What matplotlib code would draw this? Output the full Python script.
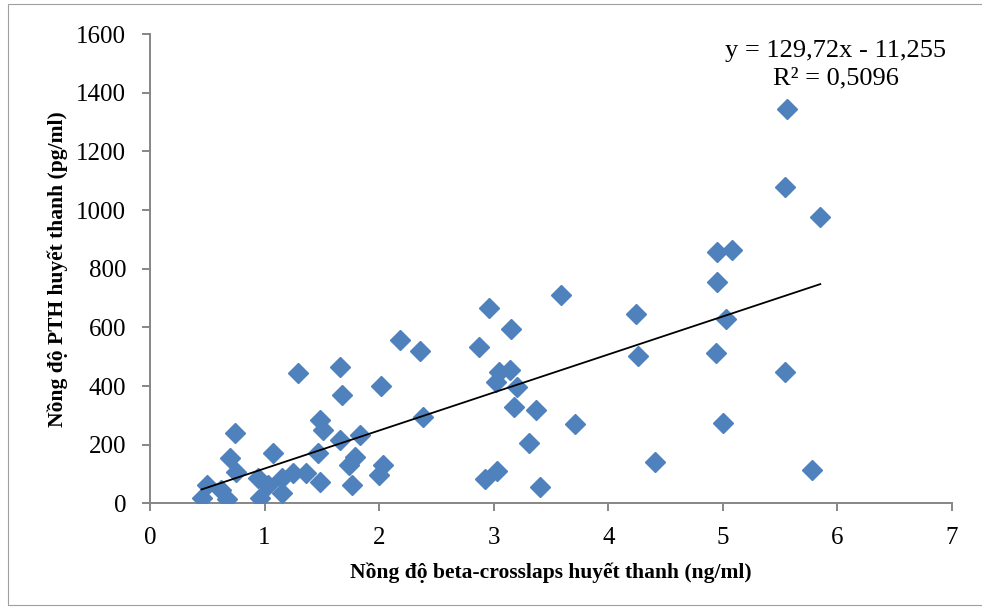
import numpy as np
import matplotlib.pyplot as plt
from matplotlib.patches import Rectangle

# beta-crosslaps (ng/ml) vs PTH (pg/ml)
beta_ctx = [0.45, 0.50, 0.62, 0.67, 0.74, 0.70, 0.75, 0.94, 0.96, 1.03,
            1.07, 1.15, 1.15, 1.25, 1.29, 1.36, 1.48, 1.47, 1.48, 1.51,
            1.66, 1.76, 1.74, 1.79, 1.83, 1.68, 1.66, 2.02, 2.00, 2.03,
            2.18, 2.36, 2.38, 2.96, 3.15, 2.87, 3.59, 3.05, 3.14, 3.02,
            3.20, 3.18, 3.37, 3.71, 3.31, 3.03, 2.92, 3.40, 4.24, 4.26,
            4.41, 4.95, 5.08, 4.95, 5.03, 4.94, 5.00, 5.56, 5.54, 5.85,
            5.54, 5.78]
pth = [17, 62, 45, 14, 239, 153, 108, 85, 17, 62,
       171, 85, 34, 102, 443, 102, 74, 171, 284, 250,
       216, 62, 131, 159, 233, 369, 466, 400, 97, 131,
       557, 520, 293, 665, 594, 534, 710, 449, 455, 413,
       396, 327, 318, 270, 207, 111, 82, 55, 646, 502,
       142, 858, 864, 756, 629, 512, 273, 1344, 1078, 978,
       447, 114]

# linear trendline shown on the chart
slope = 129.72
intercept = -11.255
eq_text = "y = 129,72x - 11,255\nR² = 0,5096"

xlabel = "Nồng độ beta-crosslaps huyết thanh (ng/ml)"
ylabel = "Nồng độ PTH huyết thanh (pg/ml)"

plt.rcParams['font.family'] = ['Liberation Serif', 'DejaVu Serif']

fig = plt.figure(figsize=(9.82, 6.11), dpi=100)
ax = fig.add_axes([0.1527, 0.1763, 0.8168, 0.7677])

fig.patches.append(Rectangle((8 / 982, 6 / 611), 1.0, 1 - 10 / 611,
                             transform=fig.transFigure, fill=False,
                             edgecolor='#a0a0a0', lw=0.8))

ax.plot(beta_ctx, pth, 'D', color='#4F81BD', markersize=10.5,
        markeredgecolor='#4F81BD', zorder=3)

xs = np.array([min(beta_ctx), max(beta_ctx)])
ax.plot(xs, slope * xs + intercept, '-', color='black', lw=1.3, zorder=4)

ax.text(0.855, 0.988, eq_text, transform=ax.transAxes, ha='center',
        va='top', fontsize=19, linespacing=1.35)

ax.set_xlim(0, 7)
ax.set_ylim(0, 1600)
ax.set_xticks(range(0, 8))
ax.set_yticks(range(0, 1601, 200))

for s in ['top', 'right']:
    ax.spines[s].set_visible(False)
for s in ['left', 'bottom']:
    ax.spines[s].set_color('#868686')
    ax.spines[s].set_linewidth(1.4)
ax.tick_params(direction='out', length=6, width=1.4, color='#868686',
               labelsize=18)
ax.tick_params(axis='x', pad=11)
ax.tick_params(axis='y', pad=11)

ax.set_xlabel(xlabel, fontsize=15.5, fontweight='bold', labelpad=10)
ax.set_ylabel(ylabel, fontsize=15.5, fontweight='bold', labelpad=6)

fig.savefig('out.png', dpi=100)
